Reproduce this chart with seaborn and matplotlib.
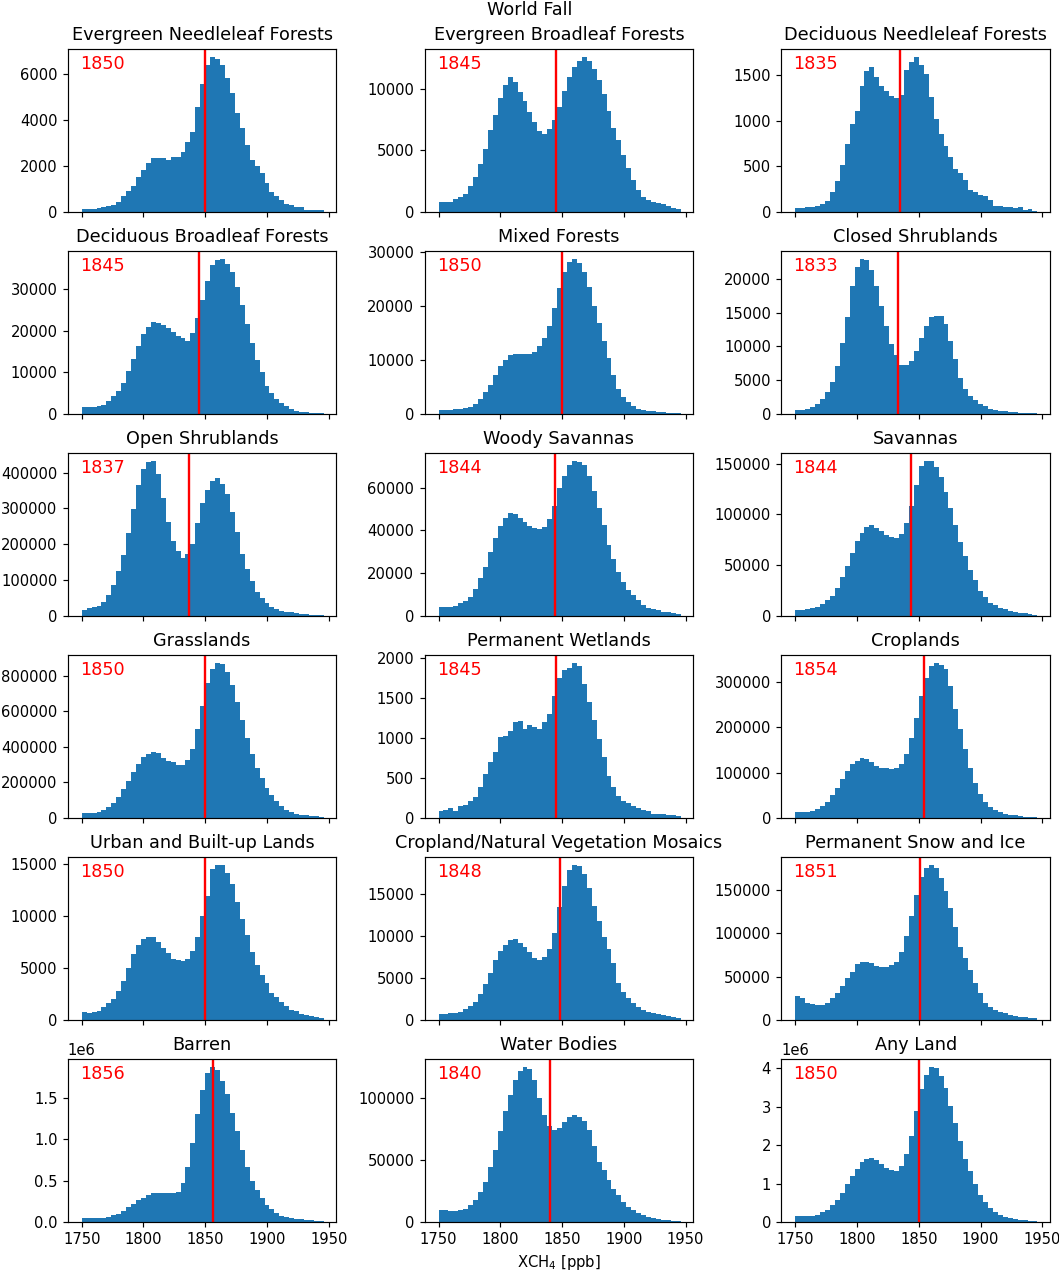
import numpy as np
import pandas as pd
import matplotlib
matplotlib.use("Agg")
import matplotlib.pyplot as plt
import seaborn as sns

# bins: 4 ppb wide, 1750 -> 1946
edges = np.arange(1750, 1950, 4)
centers = edges[:-1] + 2

titles = ['Evergreen Needleleaf Forests', 'Evergreen Broadleaf Forests', 'Deciduous Needleleaf Forests',
          'Deciduous Broadleaf Forests', 'Mixed Forests', 'Closed Shrublands',
          'Open Shrublands', 'Woody Savannas', 'Savannas',
          'Grasslands', 'Permanent Wetlands', 'Croplands',
          'Urban and Built-up Lands', 'Cropland/Natural Vegetation Mosaics', 'Permanent Snow and Ice',
          'Barren', 'Water Bodies', 'Any Land']

medians = [1850, 1845, 1835, 1845, 1850, 1833, 1837, 1844, 1844,
           1850, 1845, 1854, 1850, 1848, 1851, 1856, 1840, 1850]

evergreen_needle = [130, 130, 140, 190, 200, 250, 320, 450, 690, 920,
                    1150, 1530, 1810, 2130, 2360, 2360, 2360, 2250, 2410, 2410,
                    2600, 3040, 3500, 4570, 5600, 6420, 6770, 6670, 6420, 5840,
                    5170, 4310, 3680, 2900, 2280, 2000, 1710, 1260, 880, 690,
                    510, 340, 290, 200, 200, 100, 100, 70, 70]
evergreen_broad = [840, 840, 840, 1030, 1220, 1490, 2080, 2870, 3890, 5140,
                   6680, 7920, 9270, 10330, 10950, 10540, 9730, 9050, 8140, 7300,
                   6620, 6350, 6760, 7510, 8570, 9870, 11000, 11760, 12240, 12620,
                   12240, 11620, 10760, 9600, 8240, 6840, 5810, 4600, 3540, 2600,
                   1760, 1220, 1000, 780, 730, 620, 490, 350, 270]
deciduous_needle = [40, 40, 50, 50, 60, 90, 120, 215, 340, 510,
                    740, 960, 1110, 1380, 1540, 1590, 1480, 1380, 1330, 1270,
                    1245, 1285, 1550, 1640, 1700, 1610, 1510, 1260, 1020, 855,
                    725, 600, 470, 425, 345, 240, 215, 190, 170, 130,
                    65, 60, 58, 50, 40, 58, 22, 33, 15]
deciduous_broad = [1760, 1760, 1760, 1900, 2200, 3000, 4200, 5400, 7400, 10200,
                   13200, 16400, 19200, 21000, 22000, 21800, 21400, 20600, 19800, 18800,
                   18200, 17600, 19400, 23100, 27400, 32000, 35800, 37000, 37300, 36000,
                   34000, 30600, 26200, 21600, 17000, 13000, 10000, 6800, 5000, 3600,
                   2600, 1800, 1200, 800, 560, 400, 240, 160, 150]
mixed = [810, 810, 810, 880, 940, 1060, 1310, 1810, 2810, 4060,
         5440, 7190, 8880, 9940, 10940, 11190, 11190, 11190, 11190, 11560,
         12630, 14000, 16380, 19690, 23380, 26300, 28200, 28800, 28000, 26300,
         23500, 20000, 16800, 13500, 10300, 7200, 4600, 3200, 2200, 1500,
         1000, 800, 600, 500, 400, 300, 250, 200, 150]
closed_shrub = [650, 650, 800, 1040, 1540, 2240, 3230, 4770, 7100, 10490,
                14310, 19030, 21770, 23010, 22760, 21270, 19030, 16050, 13070, 10340,
                8700, 7300, 7300, 7900, 9300, 11200, 13100, 14300, 14500, 14500,
                13300, 10800, 8100, 5400, 3700, 2700, 2000, 1500, 1100, 800,
                650, 500, 400, 300, 250, 200, 150, 100, 80]
open_shrub = [16800, 21500, 24300, 29000, 40200, 58900, 85000, 124300, 171000, 232700,
              298000, 365000, 410000, 430000, 433000, 395000, 330000, 262000, 210000, 180000,
              162000, 173800, 201900, 258000, 314000, 351400, 376600, 384100, 367300, 339300,
              290700, 234600, 173800, 131800, 96300, 66400, 49500, 36000, 26000, 19600,
              15000, 12000, 10000, 7500, 5600, 4700, 3700, 2800, 2000]
woody_sav = [4060, 4060, 4060, 4520, 6080, 7020, 9050, 12480, 17630, 23090,
             30110, 36660, 42280, 46020, 48050, 47580, 46020, 44150, 42280, 41030,
             40560, 41810, 45400, 51170, 59750, 65210, 70670, 72540, 71920, 70360,
             65520, 58190, 50390, 42590, 33230, 26680, 20750, 16070, 12170, 9830,
             7490, 5150, 3900, 3280, 2650, 2030, 1720, 1250, 940]
savannas = [6200, 6200, 6900, 7500, 9200, 11800, 15400, 19900, 27800, 38600,
            49300, 62100, 73500, 82000, 87600, 89200, 86600, 83300, 80100, 77800,
            77000, 81000, 91800, 108800, 129100, 147400, 152300, 152900, 146400, 136600,
            121900, 106200, 89200, 72900, 59200, 45100, 35300, 24800, 19000, 13100,
            10800, 8200, 6900, 5200, 4200, 3300, 2600, 2000, 1300]
grasslands = [30000, 30000, 30000, 33800, 45000, 60000, 82600, 120200, 161500, 210300,
              257300, 304200, 341800, 360600, 368100, 364300, 338000, 319000, 312000, 300000,
              298000, 327000, 389000, 498000, 631000, 758700, 833800, 871400, 863900, 820700,
              745600, 651700, 552100, 450700, 360600, 281700, 223500, 169000, 129600, 95800,
              67600, 45100, 31900, 24400, 18800, 15000, 11300, 9400, 5600]
wetlands = [92, 104, 121, 92, 154, 167, 217, 267, 383, 550,
            704, 821, 1017, 1029, 1092, 1204, 1217, 1113, 1163, 1142,
            1113, 1196, 1300, 1521, 1746, 1854, 1871, 1938, 1904, 1675,
            1454, 1229, 988, 758, 529, 392, 279, 217, 183, 154,
            121, 96, 83, 54, 50, 50, 42, 38, 21]
croplands = [14100, 14100, 14100, 14800, 20000, 26000, 34900, 49700, 66100, 86900,
             103200, 118000, 125500, 131400, 129200, 122500, 115100, 110600, 109100, 108000,
             110600, 118000, 140300, 176000, 220000, 268000, 308000, 335000, 342000, 338000,
             328000, 290000, 240000, 195000, 152000, 110000, 78000, 52000, 36000, 25000,
             18000, 13000, 9000, 7000, 5500, 4000, 3000, 2000, 1500]
urban = [740, 650, 810, 900, 1290, 1610, 2000, 2810, 3710, 5000,
         6290, 7190, 7810, 8000, 8000, 7480, 6940, 6450, 5870, 5740,
         5700, 5870, 6610, 8000, 10000, 11940, 14520, 14900, 14900, 14130,
         13060, 11360, 9680, 8130, 6520, 5320, 4350, 3550, 2580, 2190,
         1770, 1350, 970, 870, 550, 480, 390, 320, 160]
mosaics = [675, 715, 794, 794, 990, 1270, 1670, 2180, 3100, 4290,
           5640, 7150, 8260, 8930, 9530, 9610, 9210, 8730, 8140, 7340,
           7150, 7540, 8420, 10400, 13500, 15960, 17790, 18460, 18340, 17390,
           15680, 13580, 11830, 9930, 8420, 6750, 4370, 3370, 2580, 1990,
           1590, 1190, 990, 790, 675, 600, 480, 400, 280]
snow_ice = [27700, 25000, 20000, 18500, 16900, 16900, 20000, 25000, 31500, 39200,
            48100, 55800, 64600, 66900, 66900, 65400, 62300, 61500, 61500, 63000,
            66900, 78800, 96900, 120000, 144200, 164600, 175000, 178800, 175000, 163500,
            148100, 128800, 107700, 84600, 71200, 57700, 43100, 30800, 19200, 15400,
            11500, 8800, 7700, 5800, 4600, 3800, 3100, 2700, 1900]
barren = [44000, 44000, 44000, 44000, 44000, 56000, 80000, 96000, 128000, 176000,
          216000, 264000, 292000, 328000, 344000, 356000, 344000, 344000, 344000, 364000,
          472000, 664000, 952000, 1304000, 1596000, 1792000, 1872000, 1832000, 1704000, 1544000,
          1312000, 1092000, 872000, 664000, 492000, 384000, 284000, 204000, 152000, 112000,
          76000, 64000, 52000, 40000, 32000, 24000, 24000, 16000, 12000]
water = [9950, 9400, 8600, 8870, 9400, 10750, 13440, 17470, 24190, 32260,
         44350, 57790, 73380, 89510, 102100, 114800, 121800, 125000, 123600, 114800,
         100300, 86000, 77100, 73900, 76100, 80600, 84700, 86000, 84700, 81400,
         74500, 61000, 48400, 41700, 33600, 26900, 21500, 16100, 12100, 9400,
         7260, 5400, 4000, 3200, 2400, 1900, 1300, 1000, 800]
any_land = [165000, 165000, 165000, 165000, 190000, 250000, 320000, 430000, 570000, 760000,
            990000, 1210000, 1380000, 1560000, 1640000, 1670000, 1610000, 1520000, 1410000, 1350000,
            1330000, 1450000, 1760000, 2250000, 2900000, 3470000, 3840000, 4040000, 4020000, 3800000,
            3500000, 3020000, 2570000, 2100000, 1630000, 1320000, 990000, 710000, 510000, 365000,
            260000, 190000, 130000, 100000, 78000, 60000, 45000, 35000, 20000]

all_counts = [evergreen_needle, evergreen_broad, deciduous_needle,
              deciduous_broad, mixed, closed_shrub,
              open_shrub, woody_sav, savannas,
              grasslands, wetlands, croplands,
              urban, mosaics, snow_ice,
              barren, water, any_land]

# 10x12 in figure saved at ~106 dpi -> 1059x1272 px
fig, axes = plt.subplots(6, 3, figsize=(1059 / 106, 12), dpi=106, sharex=True)
fig.subplots_adjust(left=0.064, right=0.9915, top=0.9615, bottom=0.0393,
                    wspace=0.328, hspace=0.24)

for ax, title, med, vals in zip(axes.flat, titles, medians, all_counts):
    df = pd.DataFrame({'xch4': centers, 'n': vals})
    sns.histplot(data=df, x='xch4', weights='n', bins=edges.tolist(), ax=ax,
                 color='#1f77b4', alpha=1, edgecolor='none', linewidth=0)
    ax.axvline(med, color='red', lw=1.6)
    ax.text(0.045, 0.91, str(med), transform=ax.transAxes, color='red',
            fontsize=12, va='center', ha='left')
    ax.set_title(title, fontsize=12)
    ax.set_ylabel('')
    ax.set_xlabel('')

ax.set_xlim(1738.7, 1956.2)
ax.set_xticks([1750, 1800, 1850, 1900, 1950])
axes[-1, 1].set_xlabel('XCH$_4$ [ppb]')
fig.suptitle('World Fall', fontsize=12, y=0.999)

fig.savefig('out.png', dpi=106)
